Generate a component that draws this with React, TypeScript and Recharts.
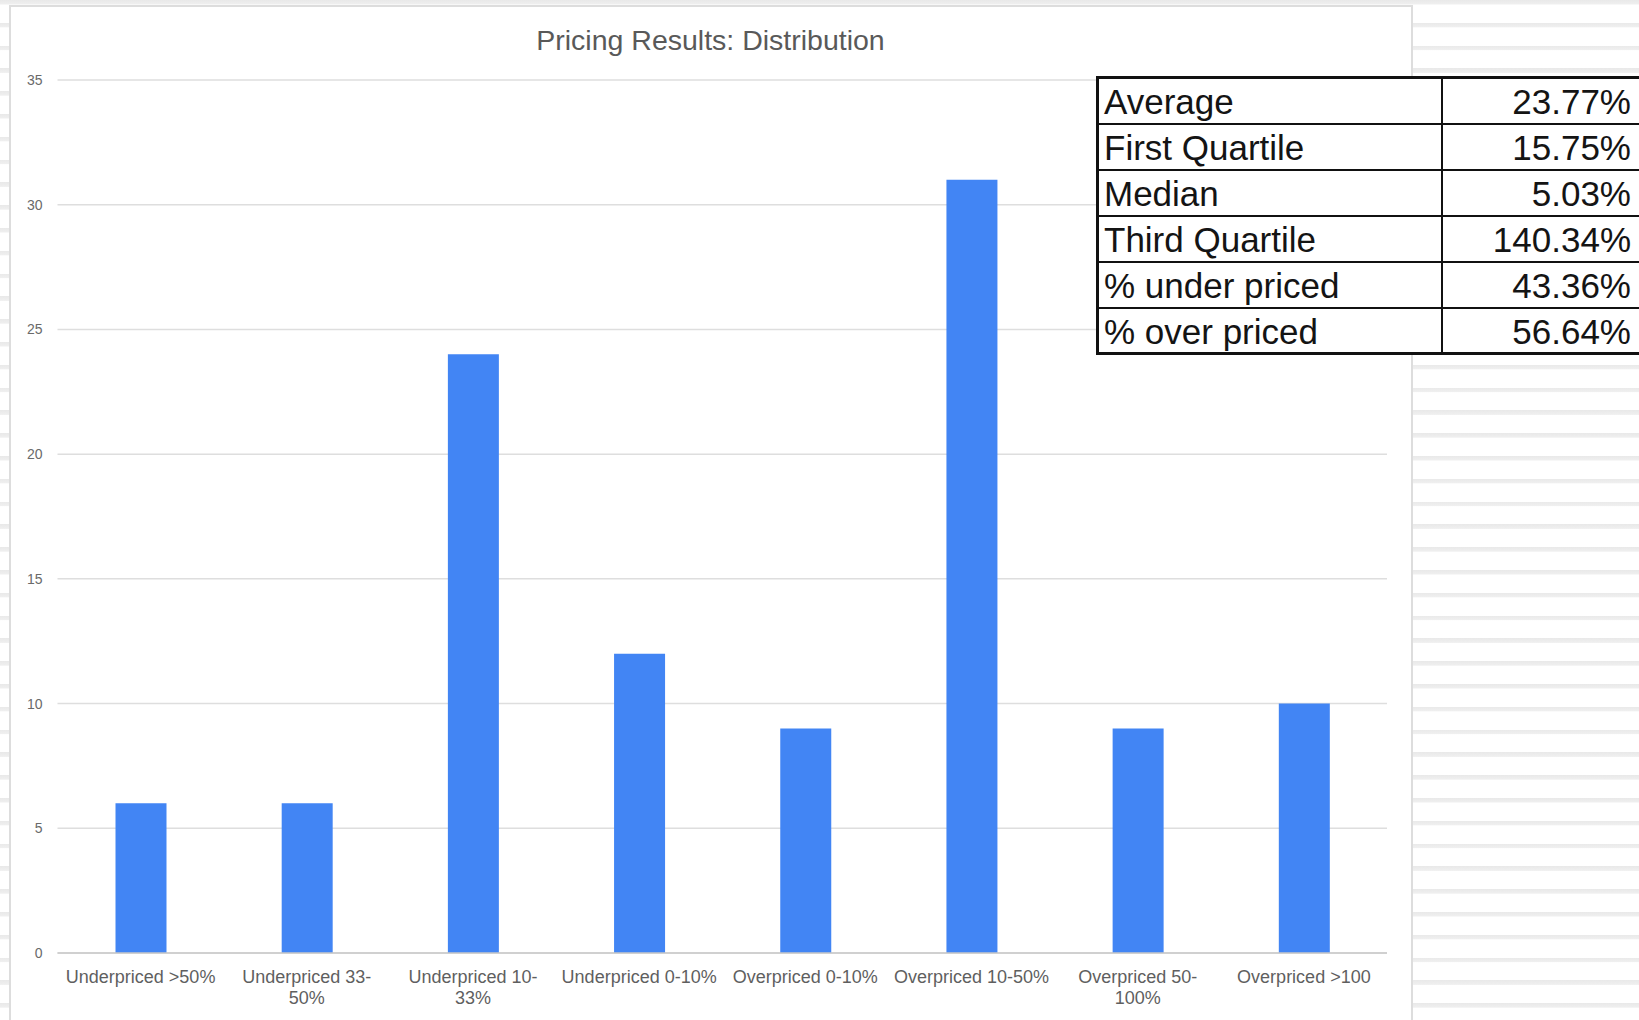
import { BarChart, Bar, XAxis, YAxis, CartesianGrid } from "recharts";

const categories = [
  "Underpriced >50%",
  "Underpriced 33-50%",
  "Underpriced 10-33%",
  "Underpriced 0-10%",
  "Overpriced 0-10%",
  "Overpriced 10-50%",
  "Overpriced 50-100%",
  "Overpriced >100",
];
const counts = [6, 6, 24, 12, 9, 31, 9, 10];
const yTicks = [0, 5, 10, 15, 20, 25, 30, 35];

const statLabels = [
  "Average",
  "First Quartile",
  "Median",
  "Third Quartile",
  "% under priced",
  "% over priced",
];
const statValues = ["23.77%", "15.75%", "5.03%", "140.34%", "43.36%", "56.64%"];

const FONT = '"Liberation Sans", Arial, Helvetica, sans-serif';

// long labels wrap after their last hyphen, as the sheet chart does
function splitLabel(label: string): string[] {
  if (label.length <= 17) return [label];
  const cut = label.lastIndexOf("-");
  if (cut < 0) return [label];
  return [label.slice(0, cut + 1), label.slice(cut + 1)];
}

function XTick({ x, y, payload }: any) {
  const lines = splitLabel(String(payload.value));
  return (
    <text x={x} y={y} textAnchor="middle" fill="#5f5f5f" fontSize={18} fontFamily={FONT}>
      {lines.map((l, i) => (
        <tspan key={i} x={x} dy={i === 0 ? 30 : 21}>
          {l}
        </tspan>
      ))}
    </text>
  );
}

export default function App() {
  const data = categories.map((c, i) => ({ category: c, count: counts[i] }));

  return (
    <div
      style={{
        position: "fixed",
        left: 0,
        top: 0,
        width: 1639,
        height: 1020,
        overflow: "hidden",
        fontFamily: FONT,
        background:
          "repeating-linear-gradient(to bottom, #e9e9e9 0px, #efefef 4px, #ffffff 5px, #ffffff 22.8px)",
      }}
    >
      <div
        style={{
          position: "absolute",
          left: 9,
          top: 5,
          width: 1404,
          height: 1100,
          boxSizing: "border-box",
          border: "2px solid #dddddd",
          background: "#ffffff",
        }}
      />
      <div
        style={{
          position: "absolute",
          left: 10,
          top: 24,
          width: 1401,
          textAlign: "center",
          fontSize: 28.5,
          lineHeight: "32px",
          color: "#595959",
        }}
      >
        Pricing Results: Distribution
      </div>
      <div style={{ position: "absolute", left: 10, top: 6 }}>
        <BarChart
          width={1401}
          height={1014}
          data={data}
          margin={{ top: 74, right: 24, bottom: 7, left: 7.5 }}
        >
          <CartesianGrid vertical={false} stroke="#dedede" strokeWidth={1.5} />
          <XAxis
            dataKey="category"
            tick={<XTick />}
            tickLine={false}
            tickSize={0}
            tickMargin={0}
            axisLine={{ stroke: "#c9c9c9", strokeWidth: 1.5 }}
            height={60}
            interval={0}
          />
          <YAxis
            domain={[0, 35]}
            ticks={yTicks}
            tick={{ fill: "#6a6a6a", fontSize: 14, fontFamily: FONT }}
            tickLine={false}
            tickSize={0}
            tickMargin={15}
            axisLine={false}
            width={40}
          />
          <Bar dataKey="count" fill="#4285f4" barSize={51} isAnimationActive={false} />
        </BarChart>
      </div>
      <table
        style={{
          position: "absolute",
          left: 1096,
          top: 76,
          width: 556,
          tableLayout: "fixed",
          borderCollapse: "collapse",
          border: "3px solid #111",
          background: "#ffffff",
          color: "#141414",
          fontSize: 35,
        }}
      >
        <colgroup>
          <col style={{ width: 344 }} />
          <col style={{ width: 212 }} />
        </colgroup>
        <tbody>
          {statLabels.map((label, i) => (
            <tr key={label} style={{ height: 46 }}>
              <td
                style={{
                  border: "2px solid #111",
                  padding: "3px 0 0 5px",
                  lineHeight: "40px",
                  whiteSpace: "nowrap",
                  overflow: "hidden",
                }}
              >
                {label}
              </td>
              <td
                style={{
                  border: "2px solid #111",
                  padding: "3px 21px 0 0",
                  lineHeight: "40px",
                  textAlign: "right",
                  whiteSpace: "nowrap",
                }}
              >
                {statValues[i]}
              </td>
            </tr>
          ))}
        </tbody>
      </table>
    </div>
  );
}
